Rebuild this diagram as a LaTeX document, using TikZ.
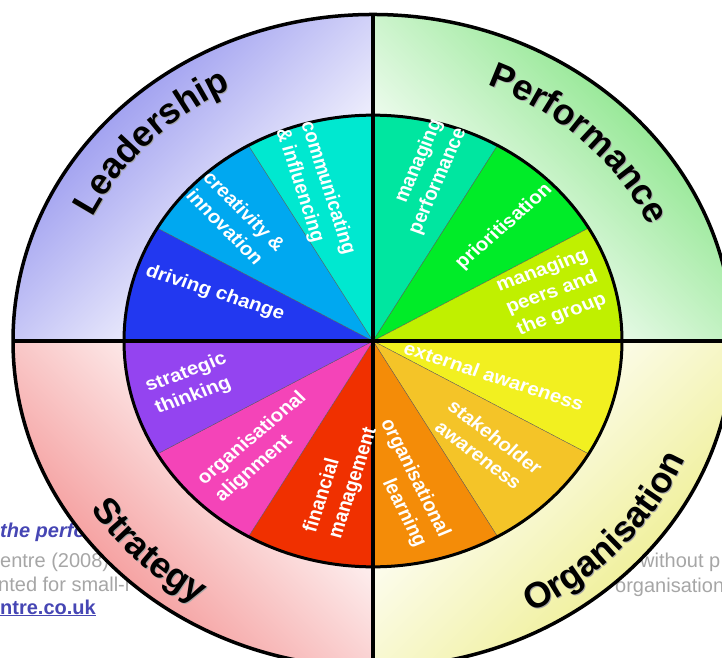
\documentclass[tikz,border=0pt]{standalone}
\usepackage{fontspec}
\setmainfont{Liberation Sans}
\usetikzlibrary{decorations.text}

\definecolor{leaddark}{RGB}{160,160,240}
\definecolor{leaddeep}{RGB}{120,120,232}
\definecolor{perfdark}{RGB}{150,232,150}
\definecolor{perfdeep}{RGB}{104,220,104}
\definecolor{stratdark}{RGB}{245,160,160}
\definecolor{stratdeep}{RGB}{238,116,116}
\definecolor{orgdark}{RGB}{240,240,156}
\definecolor{orgdeep}{RGB}{228,228,104}
\definecolor{cdrive}{RGB}{34,56,240}
\definecolor{ccreate}{RGB}{0,168,240}
\definecolor{ccomm}{RGB}{0,232,208}
\definecolor{cmanperf}{RGB}{0,230,160}
\definecolor{cprio}{RGB}{0,236,40}
\definecolor{cpeers}{RGB}{192,240,0}
\definecolor{cext}{RGB}{242,240,32}
\definecolor{cstake}{RGB}{244,196,40}
\definecolor{clearn}{RGB}{244,140,8}
\definecolor{cfin}{RGB}{240,48,0}
\definecolor{corgalign}{RGB}{244,68,184}
\definecolor{cstrat}{RGB}{148,68,240}
\definecolor{notegray}{RGB}{166,166,166}
\definecolor{noteblue}{RGB}{70,70,180}

% fades: 25bp = wheel centre, 75bp = 510px out along the diagonal
\pgfdeclareverticalshading{leadfade}{100bp}{color(0bp)=(white); color(36.8bp)=(white); color(59.3bp)=(leaddark); color(75bp)=(leaddeep); color(100bp)=(leaddeep)}
\pgfdeclareverticalshading{perffade}{100bp}{color(0bp)=(white); color(36.8bp)=(white); color(59.3bp)=(perfdark); color(75bp)=(perfdeep); color(100bp)=(perfdeep)}
\pgfdeclareverticalshading{stratfade}{100bp}{color(0bp)=(white); color(36.8bp)=(white); color(59.3bp)=(stratdark); color(75bp)=(stratdeep); color(100bp)=(stratdeep)}
\pgfdeclareverticalshading{orgfade}{100bp}{color(0bp)=(white); color(36.8bp)=(white); color(59.3bp)=(orgdark); color(75bp)=(orgdeep); color(100bp)=(orgdeep)}

\newcommand{\lblfont}{\fontsize{20.5}{26}\selectfont\bfseries}
\newcommand{\ringfont}{\fontsize{36}{40}\selectfont\bfseries}
\newcommand{\notefont}{\fontsize{20}{24}\selectfont}

\tikzset{
  wedge/.style={draw=black!65, line width=0.3pt},
  lbl/.style={text=white, font=\lblfont, inner sep=0pt},
  note/.style={anchor=base west, inner sep=0pt, font=\notefont, text=notegray},
  ringlbl/.style={decorate, decoration={text along path, text align=center, text={|\ringfont|#1}}},
  ringshadow/.style={decorate, decoration={text along path, text align=center, text color=black!35, text={|\ringfont|#1}}}
}

\begin{document}
\begin{tikzpicture}[x=1pt, y=1pt]
\useasboundingbox (0,0) rectangle (722,657);
\clip (0,0) rectangle (722,657);

% page text behind the wheel
\node [note, text=noteblue, font=\notefont\bfseries\itshape] (nperf) at (0,120) {the perfo};
\node [note] (nyear) at (0,90) {entre (2008)};
\node [note] (nsmall) at (-2,66) {nted for small-r};
\node [note, text=noteblue, font=\notefont\bfseries] (nweb) at (0,43) {\underline{ntre.co.uk}};
\node [note] (nperm) at (640,90) {without p};
\node [note] (norg) at (615,65) {organisation};

\coordinate (c) at (373,316);
\coordinate (cs) at (374,315);

% outer ring, one fade per quarter
\begin{scope}
\clip (c) -- ++(0,326.5) arc [start angle=90, end angle=180, x radius=360, y radius=326.5] -- cycle;
\begin{scope}[transform canvas={shift={(373,316)}, rotate=45}]
\shade [shading=leadfade] (-520,0) rectangle (520,510);
\end{scope}
\end{scope}
\begin{scope}
\clip (c) -- ++(360,0) arc [start angle=0, end angle=90, x radius=360, y radius=326.5] -- cycle;
\begin{scope}[transform canvas={shift={(373,316)}, rotate=-45}]
\shade [shading=perffade] (-520,0) rectangle (520,510);
\end{scope}
\end{scope}
\begin{scope}
\clip (c) -- ++(-360,0) arc [start angle=180, end angle=270, x radius=360, y radius=326.5] -- cycle;
\begin{scope}[transform canvas={shift={(373,316)}, rotate=135}]
\shade [shading=stratfade] (-520,0) rectangle (520,510);
\end{scope}
\end{scope}
\begin{scope}
\clip (c) -- ++(0,-326.5) arc [start angle=270, end angle=360, x radius=360, y radius=326.5] -- cycle;
\begin{scope}[transform canvas={shift={(373,316)}, rotate=-135}]
\shade [shading=orgfade] (-520,0) rectangle (520,510);
\end{scope}
\end{scope}

\begin{scope}[shift={(c)}, yscale=0.907]
% inner wheel
\filldraw [wedge, fill=cdrive] (0,0) -- (180:249) arc [start angle=180, end angle=150, radius=249] -- cycle;
\filldraw [wedge, fill=ccreate] (0,0) -- (150:249) arc [start angle=150, end angle=120, radius=249] -- cycle;
\filldraw [wedge, fill=ccomm] (0,0) -- (120:249) arc [start angle=120, end angle=90, radius=249] -- cycle;
\filldraw [wedge, fill=cmanperf] (0,0) -- (90:249) arc [start angle=90, end angle=60, radius=249] -- cycle;
\filldraw [wedge, fill=cprio] (0,0) -- (60:249) arc [start angle=60, end angle=30, radius=249] -- cycle;
\filldraw [wedge, fill=cpeers] (0,0) -- (30:249) arc [start angle=30, end angle=0, radius=249] -- cycle;
\filldraw [wedge, fill=cext] (0,0) -- (0:249) arc [start angle=0, end angle=-30, radius=249] -- cycle;
\filldraw [wedge, fill=cstake] (0,0) -- (-30:249) arc [start angle=-30, end angle=-60, radius=249] -- cycle;
\filldraw [wedge, fill=clearn] (0,0) -- (-60:249) arc [start angle=-60, end angle=-90, radius=249] -- cycle;
\filldraw [wedge, fill=cfin] (0,0) -- (270:249) arc [start angle=270, end angle=240, radius=249] -- cycle;
\filldraw [wedge, fill=corgalign] (0,0) -- (240:249) arc [start angle=240, end angle=210, radius=249] -- cycle;
\filldraw [wedge, fill=cstrat] (0,0) -- (210:249) arc [start angle=210, end angle=180, radius=249] -- cycle;
% rims and cross
\draw [line width=3pt] (0,0) circle [radius=249];
\draw [line width=3.5pt] (0,0) circle [radius=360];
\coordinate (N) at (90:360);
\coordinate (S) at (270:360);
\coordinate (W) at (180:360);
\coordinate (E) at (0:360);
\draw [line width=4pt] (N) -- (S);
\draw [line width=4pt] (W) -- (E);
\end{scope}

% wheel labels
\begin{scope}[shift={(c)}, yscale=0.907, transform shape]
\node [lbl, rotate=-19.7] (drive) at (-158,52.9) {driving change};
\node [lbl, rotate=-47.8, align=center] (create) at (-138,134.5) {creativity \&\\innovation};
\node [lbl, rotate=-73.6, align=left] (comm) at (-58,165) {communicating\\\& influencing};
\node [lbl, rotate=68, align=right] (manperf) at (53,180.8) {managing\\performance};
\node [lbl, rotate=43.8] (prio) at (131,125.7) {prioritisation};
\node [lbl, rotate=21.9, align=center] (peers) at (179,52.9) {managing\\peers and\\the group};
\node [lbl, rotate=-19.7] (ext) at (121,-38.6) {external awareness};
\node [lbl, rotate=-39.7, align=center] (stake) at (114,-115.8) {stakeholder\\awareness};
\node [lbl, rotate=-65.2, align=right] (learn) at (30,-156.6) {organisational\\learning};
\node [lbl, rotate=73.6, align=left] (fin) at (-32,-153.3) {financial\\management};
\node [lbl, rotate=42.8, align=left] (orgalign) at (-112,-116.9) {organisational\\alignment};
\node [lbl, rotate=21.9, align=left] (strat) at (-182,-47.4) {strategic\\thinking};
\end{scope}

% ring titles
\path [ringshadow=Leadership] (cs) ++(166:312 and 283) arc [start angle=166, end angle=106, x radius=312, y radius=283];
\path [ringlbl=Leadership] (c) ++(166:312 and 283) arc [start angle=166, end angle=106, x radius=312, y radius=283];
\path [ringshadow=Performance] (cs) ++(76:304 and 276) arc [start angle=76, end angle=16, x radius=304, y radius=276];
\path [ringlbl=Performance] (c) ++(76:304 and 276) arc [start angle=76, end angle=16, x radius=304, y radius=276];
\path [ringshadow=Strategy] (cs) ++(195:338 and 307) arc [start angle=195, end angle=256, x radius=338, y radius=307];
\path [ringlbl=Strategy] (c) ++(195:338 and 307) arc [start angle=195, end angle=256, x radius=338, y radius=307];
\path [ringshadow=Organisation] (cs) ++(288:338 and 307) arc [start angle=288, end angle=348, x radius=338, y radius=307];
\path [ringlbl=Organisation] (c) ++(288:338 and 307) arc [start angle=288, end angle=348, x radius=338, y radius=307];
\end{tikzpicture}
\end{document}
